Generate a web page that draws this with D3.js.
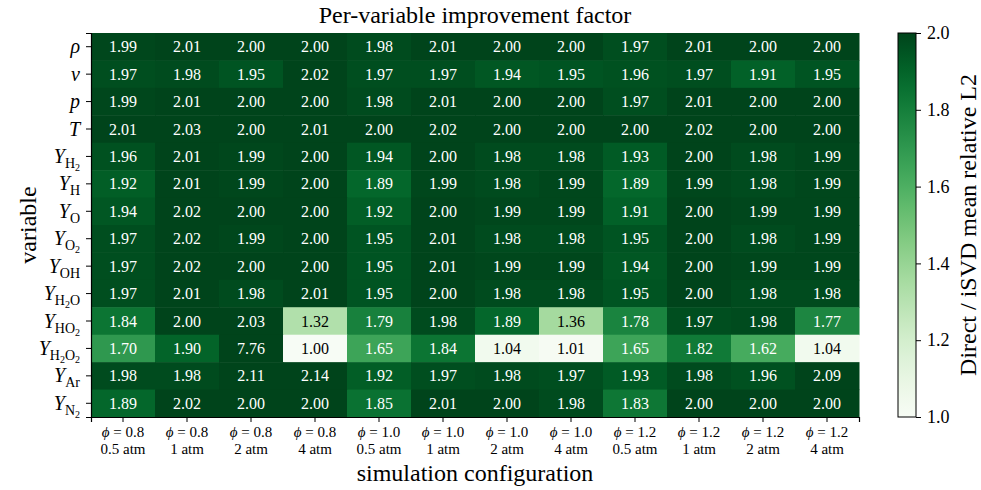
<!DOCTYPE html>
<html>
<head>
<meta charset="utf-8">
<script src="https://cdn.jsdelivr.net/npm/d3@7"></script>
<style>
  body { margin: 0; background: #fff; }
  svg text { font-family: "Liberation Serif", "Times New Roman", "DejaVu Serif", serif; }
</style>
</head>
<body>
<script>
// rows (variables): [symbol, subscript]
var variables = [["ρ", ""], ["v", ""], ["p", ""], ["T", ""],
  ["Y", "H2"], ["Y", "H"], ["Y", "O"], ["Y", "O2"], ["Y", "OH"], ["Y", "H2O"],
  ["Y", "HO2"], ["Y", "H2O2"], ["Y", "Ar"], ["Y", "N2"]];

var phis = ["0.8", "0.8", "0.8", "0.8", "1.0", "1.0", "1.0", "1.0", "1.2", "1.2", "1.2", "1.2"];
var pressures = ["0.5 atm", "1 atm", "2 atm", "4 atm", "0.5 atm", "1 atm", "2 atm", "4 atm", "0.5 atm", "1 atm", "2 atm", "4 atm"];

var values = [
  [1.99, 2.01, 2.00, 2.00, 1.98, 2.01, 2.00, 2.00, 1.97, 2.01, 2.00, 2.00],
  [1.97, 1.98, 1.95, 2.02, 1.97, 1.97, 1.94, 1.95, 1.96, 1.97, 1.91, 1.95],
  [1.99, 2.01, 2.00, 2.00, 1.98, 2.01, 2.00, 2.00, 1.97, 2.01, 2.00, 2.00],
  [2.01, 2.03, 2.00, 2.01, 2.00, 2.02, 2.00, 2.00, 2.00, 2.02, 2.00, 2.00],
  [1.96, 2.01, 1.99, 2.00, 1.94, 2.00, 1.98, 1.98, 1.93, 2.00, 1.98, 1.99],
  [1.92, 2.01, 1.99, 2.00, 1.89, 1.99, 1.98, 1.99, 1.89, 1.99, 1.98, 1.99],
  [1.94, 2.02, 2.00, 2.00, 1.92, 2.00, 1.99, 1.99, 1.91, 2.00, 1.99, 1.99],
  [1.97, 2.02, 1.99, 2.00, 1.95, 2.01, 1.98, 1.98, 1.95, 2.00, 1.98, 1.99],
  [1.97, 2.02, 2.00, 2.00, 1.95, 2.01, 1.99, 1.99, 1.94, 2.00, 1.99, 1.99],
  [1.97, 2.01, 1.98, 2.01, 1.95, 2.00, 1.98, 1.98, 1.95, 2.00, 1.98, 1.98],
  [1.84, 2.00, 2.03, 1.32, 1.79, 1.98, 1.89, 1.36, 1.78, 1.97, 1.98, 1.77],
  [1.70, 1.90, 7.76, 1.00, 1.65, 1.84, 1.04, 1.01, 1.65, 1.82, 1.62, 1.04],
  [1.98, 1.98, 2.11, 2.14, 1.92, 1.97, 1.98, 1.97, 1.93, 1.98, 1.96, 2.09],
  [1.89, 2.02, 2.00, 2.00, 1.85, 2.01, 2.00, 1.98, 1.83, 2.00, 2.00, 2.00]
];

var colorTicks = [1.0, 1.2, 1.4, 1.6, 1.8, 2.0];

var W = 981, H = 490;
var margin = {top: 33, left: 91},
    width = 768, height = 384;

var svg = d3.select("body").append("svg")
    .attr("width", W)
    .attr("height", H);

var g = svg.append("g")
    .attr("transform", "translate(" + margin.left + "," + margin.top + ")");

var cols = d3.range(phis.length), rows = d3.range(variables.length);

var x = d3.scaleBand().domain(cols).range([0, width]);
var y = d3.scaleBand().domain(rows).range([0, height]);
var color = d3.scaleSequential(d3.interpolateGreens).domain([1, 2]).clamp(true);

var cells = [];
values.forEach(function(row, r) {
  row.forEach(function(v, c) { cells.push({r: r, c: c, v: v}); });
});

g.selectAll(".cell")
    .data(cells)
  .enter().append("rect")
    .attr("class", "cell")
    .attr("x", function(d) { return x(d.c); })
    .attr("y", function(d) { return y(d.r); })
    .attr("width", x.bandwidth() + 0.5)
    .attr("height", y.bandwidth() + 0.5)
    .style("fill", function(d) { return color(d.v); });

g.selectAll(".val")
    .data(cells)
  .enter().append("text")
    .attr("class", "val")
    .attr("x", function(d) { return x(d.c) + x.bandwidth() / 2; })
    .attr("y", function(d) { return y(d.r) + y.bandwidth() / 2; })
    .attr("dy", "0.35em")
    .style("text-anchor", "middle")
    .style("font-size", "16px")
    .style("fill", function(d) { return d.v < 1.5 ? "#000" : "#fff"; })
    .text(function(d) { return d.v.toFixed(2); });

// y axis
var yAxis = g.append("g")
    .call(d3.axisLeft(y).tickSize(5).tickPadding(6).tickFormat(""));
yAxis.select(".domain").attr("stroke-width", 1.2);
yAxis.selectAll(".tick text").each(function(r) {
  var t = d3.select(this).text(null)
      .attr("dy", "0.33em")
      .style("font-size", "20px")
      .attr("fill", "#000");
  var sym = variables[r][0], sub = variables[r][1];
  t.append("tspan").style("font-style", "italic").text(sym);
  var level = 0;
  var off = [0, 5, 8];
  sub.split("").forEach(function(ch) {
    var isDigit = /[0-9]/.test(ch);
    var want = isDigit ? 2 : 1;
    t.append("tspan")
        .attr("dy", off[want] - off[level])
        .style("font-size", isDigit ? "10px" : "14px")
        .text(ch);
    level = want;
  });
});

// x axis
var xAxis = g.append("g")
    .attr("transform", "translate(0," + height + ")")
    .call(d3.axisBottom(x).tickSize(5).tickFormat(""));
xAxis.select(".domain").attr("stroke-width", 1.2);
xAxis.selectAll(".tick text").each(function(c) {
  var t = d3.select(this).text(null)
      .attr("y", 20)
      .attr("dy", 0)
      .style("font-size", "15px")
      .attr("fill", "#000");
  var l1 = t.append("tspan").attr("x", 0);
  l1.append("tspan").style("font-style", "italic").text("ϕ");
  l1.append("tspan").text(" = " + phis[c]);
  t.append("tspan").attr("x", 0).attr("dy", 17).text(pressures[c]);
});

// title + axis labels
svg.append("text")
    .attr("x", margin.left + width / 2)
    .attr("y", 23)
    .style("text-anchor", "middle")
    .style("font-size", "24px")
    .text("Per-variable improvement factor");

svg.append("text")
    .attr("x", margin.left + width / 2)
    .attr("y", 481)
    .style("text-anchor", "middle")
    .style("font-size", "24px")
    .text("simulation configuration");

svg.append("text")
    .attr("transform", "translate(36," + (margin.top + height / 2) + ") rotate(-90)")
    .style("text-anchor", "middle")
    .style("font-size", "24px")
    .text("variable");

// colorbar
var cbX = 898, cbW = 18;
var cbScale = d3.scaleLinear().domain([1, 2]).range([margin.top + height, margin.top]);

var grad = svg.append("defs").append("linearGradient")
    .attr("id", "cbgrad")
    .attr("x1", 0).attr("y1", 1).attr("x2", 0).attr("y2", 0);
d3.range(0, 1.0001, 0.05).forEach(function(t) {
  grad.append("stop")
      .attr("offset", t)
      .attr("stop-color", color(1 + t));
});

svg.append("rect")
    .attr("x", cbX)
    .attr("y", margin.top)
    .attr("width", cbW)
    .attr("height", height)
    .style("fill", "url(#cbgrad)")
    .style("stroke", "#000")
    .style("stroke-width", 1);

var cbAxis = svg.append("g")
    .attr("transform", "translate(" + (cbX + cbW) + ",0)")
    .call(d3.axisRight(cbScale).tickValues(colorTicks).tickSize(5).tickPadding(6)
      .tickFormat(d3.format(".1f")));
cbAxis.select(".domain").remove();
cbAxis.selectAll(".tick text")
    .style("font-size", "18px")
    .attr("fill", "#000");

svg.append("text")
    .attr("transform", "translate(968," + (margin.top + height / 2) + ") rotate(-90)")
    .attr("dy", "0.35em")
    .style("text-anchor", "middle")
    .style("font-size", "24px")
    .text("Direct / iSVD mean relative L2");
</script>
</body>
</html>
